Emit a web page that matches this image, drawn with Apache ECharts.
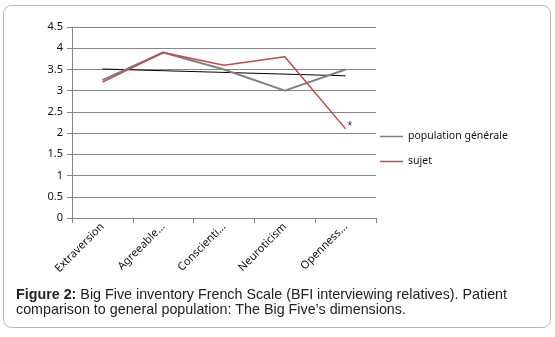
<!DOCTYPE html>
<html>
<head>
<meta charset="utf-8">
<script src="https://cdn.jsdelivr.net/npm/echarts@6/dist/echarts.min.js"></script>
<style>
  html, body { margin: 0; padding: 0; background: #fff; }
  #chart { width: 555px; height: 337px; }
</style>
</head>
<body>
<div id="chart"></div>
<script>
// catégories (Big Five)
const categories = ['Extraversion', 'Agreeable...', 'Conscienti...', 'Neuroticism', 'Openness...'];
const populationGenerale = [3.25, 3.9, 3.5, 3.0, 3.5];
const sujet = [3.2, 3.9, 3.6, 3.8, 2.1];
// courbe de tendance
const tendance = [3.51, 3.47, 3.43, 3.39, 3.35];
const yTicks = [0, 0.5, 1, 1.5, 2, 2.5, 3, 3.5, 4, 4.5];

const chart = echarts.init(document.getElementById('chart'));
const axisFont = 'Noto Sans, sans-serif';

const option = {
  animation: false,
  graphic: [
    {
      type: 'rect',
      shape: { x: 3.5, y: 5.5, width: 547, height: 322, r: 8 },
      style: { fill: 'none', stroke: '#b8b8b8', lineWidth: 1 },
      silent: true
    }
  ],
  title: {
    left: 16,
    top: 288,
    padding: 0,
    text: '{b|Figure 2:} Big Five inventory French Scale (BFI interviewing relatives). Patient\ncomparison to general population: The Big Five\u2019s dimensions.',
    textStyle: {
      fontFamily: 'Liberation Sans, Arial, sans-serif',
      fontSize: 14.3,
      fontWeight: 'normal',
      color: '#222',
      lineHeight: 15,
      rich: {
        b: { fontFamily: 'Liberation Sans, Arial, sans-serif', fontSize: 14.3, fontWeight: 'bold', color: '#222', lineHeight: 15 }
      }
    }
  },
  legend: {
    orient: 'vertical',
    left: 375,
    top: 126,
    itemGap: 14,
    itemWidth: 23,
    itemHeight: 1.5,
    icon: 'rect',
    data: ['population générale', 'sujet'],
    textStyle: { fontFamily: axisFont, fontSize: 10.5, color: '#111' }
  },
  grid: { left: 72, right: 179, top: 27, bottom: 119, containLabel: false },
  xAxis: {
    type: 'category',
    data: categories,
    boundaryGap: true,
    axisLine: { show: true, lineStyle: { color: '#868686', width: 1 } },
    axisTick: { show: true, length: 5, lineStyle: { color: '#868686' } },
    axisLabel: { rotate: 45, fontFamily: axisFont, fontSize: 11, color: '#111', margin: 7, interval: 0 },
    splitLine: { show: false }
  },
  yAxis: {
    type: 'value',
    min: yTicks[0],
    max: yTicks[yTicks.length - 1],
    interval: 0.5,
    axisLine: { show: true, lineStyle: { color: '#868686', width: 1 } },
    axisTick: { show: true, length: 5, lineStyle: { color: '#868686' } },
    axisLabel: { fontFamily: axisFont, fontSize: 11, color: '#111', margin: 9 },
    splitLine: { show: true, lineStyle: { color: '#868686', width: 1 } }
  },
  series: [
    {
      name: 'tendance',
      type: 'line',
      data: tendance,
      symbol: 'none',
      lineStyle: { color: '#000', width: 1 },
      z: 1
    },
    {
      name: 'population générale',
      type: 'line',
      data: populationGenerale,
      symbol: 'none',
      color: '#808080',
      lineStyle: { color: '#808080', width: 2 },
      z: 2
    },
    {
      name: 'sujet',
      type: 'line',
      data: sujet,
      symbol: 'circle',
      symbolSize: 0,
      showSymbol: true,
      color: '#be4b48',
      lineStyle: { color: '#be4b48', width: 1.5 },
      label: {
        show: true,
        position: 'right',
        offset: [-3, -2],
        fontSize: 12,
        color: '#333',
        formatter: (p) => (p.dataIndex === sujet.length - 1 ? '*' : '')
      },
      z: 3
    }
  ]
};

chart.setOption(option);
</script>
</body>
</html>
